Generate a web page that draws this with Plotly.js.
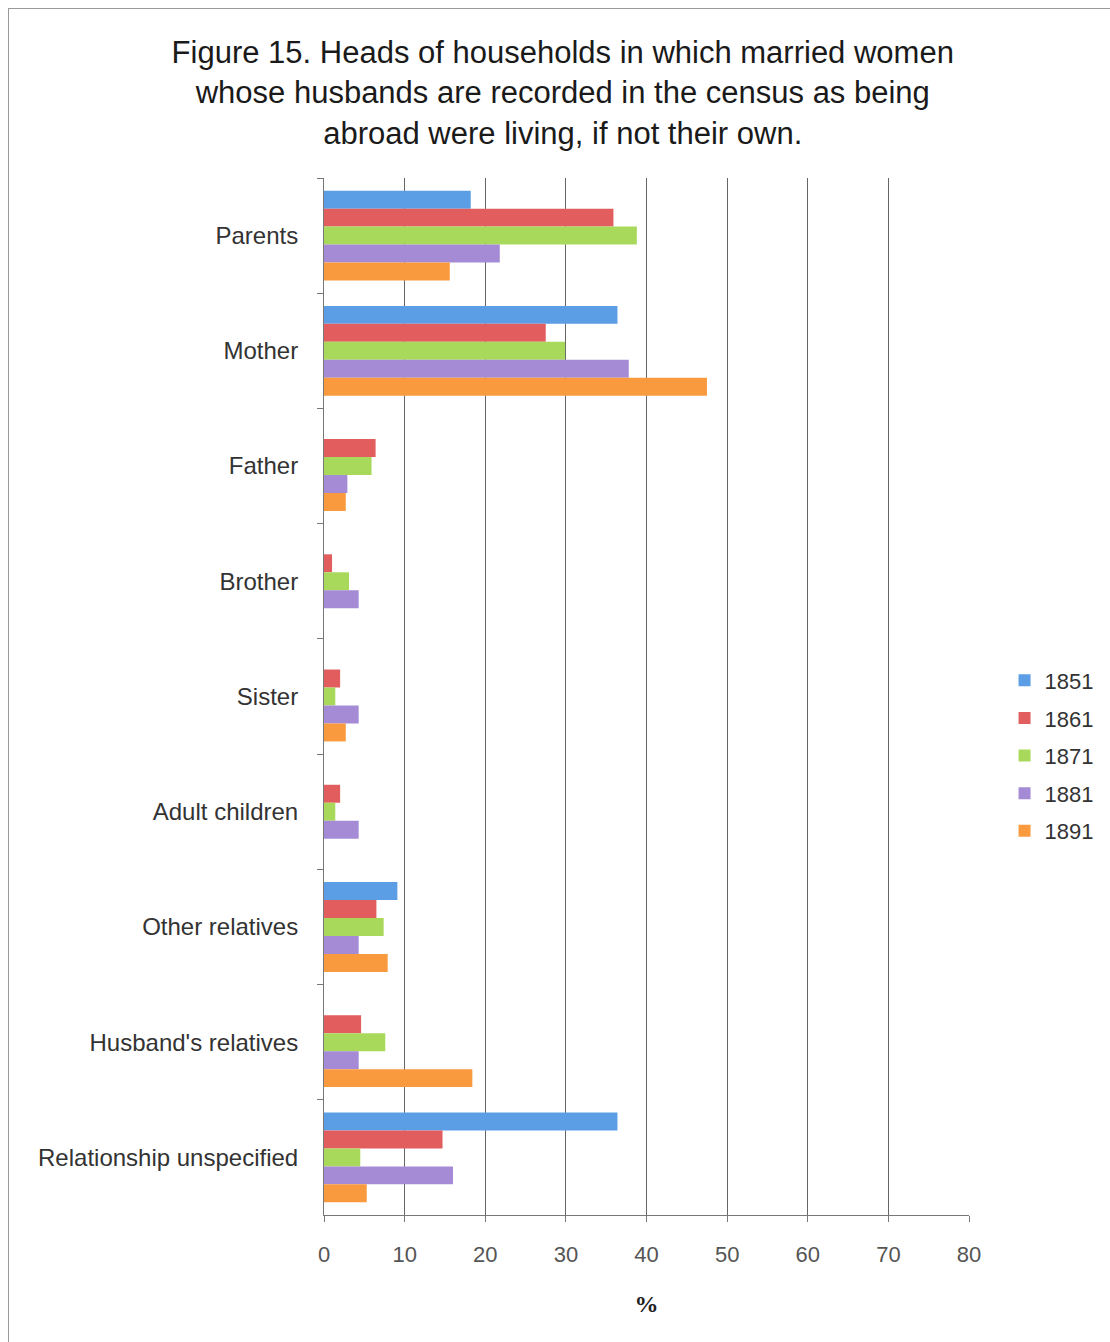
<!DOCTYPE html>
<html>
<head>
<meta charset="utf-8">
<script src="https://cdn.plot.ly/plotly-3.0.1.min.js"></script>
<style>
html,body{margin:0;padding:0;background:#fff;}
#chart{position:absolute;left:0;top:0;width:1110px;height:1342px;}
#frame{position:absolute;left:8px;top:8px;width:1110px;height:1340px;border-left:1px solid #999;border-top:1px solid #999;pointer-events:none;}
</style>
</head>
<body>
<div id="chart"></div>
<div id="frame"></div>
<script>
const categories = ["Parents","Mother","Father","Brother","Sister","Adult children","Other relatives","Husband's relatives","Relationship unspecified"];
const years = ["1851","1861","1871","1881","1891"];
const v1851 = [18.2, 36.4, 0, 0, 0, 0, 9.1, 0, 36.4];
const v1861 = [35.9, 27.5, 6.4, 1.0, 2.0, 2.0, 6.5, 4.6, 14.7];
const v1871 = [38.8, 29.9, 5.9, 3.1, 1.4, 1.4, 7.4, 7.6, 4.5];
const v1881 = [21.8, 37.8, 2.9, 4.3, 4.3, 4.3, 4.3, 4.3, 16.0];
const v1891 = [15.6, 47.5, 2.7, 0, 2.7, 0, 7.9, 18.4, 5.3];
const seriesValues = [v1851, v1861, v1871, v1881, v1891];
const colors = ["#5b9ee6", "#e25d5d", "#a9d95a", "#a58bd6", "#f99a3e"];

const traces = years.map((yr, i) => ({
  type: "bar",
  orientation: "h",
  name: yr,
  legendgroup: "g" + yr,
  y: categories,
  x: seriesValues[i],
  marker: {color: colors[i], line: {width: 0}}
}));

const layout = {
  width: 1110,
  height: 1342,
  paper_bgcolor: "#fff",
  plot_bgcolor: "#fff",
  margin: {l: 324, r: 141, t: 178, b: 127, pad: 0},
  font: {family: "Liberation Sans, Arial, sans-serif", color: "#333", size: 22},
  title: {
    text: "Figure 15. Heads of households in which married women<br>whose husbands are recorded in the census as being<br>abroad were living, if not their own.",
    font: {family: "Liberation Sans, Arial, sans-serif", size: 31, color: "#1a1a1a"},
    x: 0.507, xanchor: "center", y: 0.953, yanchor: "top"
  },
  barmode: "group",
  bargap: 0.22,
  bargroupgap: 0,
  xaxis: {
    range: [0, 80],
    dtick: 10,
    tick0: 0,
    showgrid: true,
    gridcolor: "#666",
    gridwidth: 1,
    showline: true,
    linecolor: "#777",
    linewidth: 1,
    ticks: "outside",
    ticklen: 6,
    tickcolor: "#777",
    ticklabelstandoff: 14,
    tickfont: {size: 22, color: "#555"},
    zeroline: false,
    title: {text: "<b>%</b>", font: {family: "Liberation Serif, Times New Roman, serif", size: 24, color: "#222"}, standoff: 28}
  },
  yaxis: {
    autorange: "reversed",
    showline: true,
    linecolor: "#777",
    linewidth: 1,
    ticks: "outside",
    tickson: "boundaries",
    ticklen: 6,
    tickcolor: "#777",
    ticklabelstandoff: 20,
    tickfont: {size: 24, color: "#333"},
    showgrid: false
  },
  legend: {
    xref: "container", yref: "container",
    x: 0.905, xanchor: "left",
    y: 0.437, yanchor: "middle",
    font: {size: 22, color: "#333"},
    itemwidth: 30,
    traceorder: "grouped",
    tracegroupgap: 6,
    bgcolor: "rgba(0,0,0,0)"
  },
  showlegend: true
};

Plotly.newPlot("chart", traces, layout, {displayModeBar: false, staticPlot: true});
</script>
</body>
</html>
